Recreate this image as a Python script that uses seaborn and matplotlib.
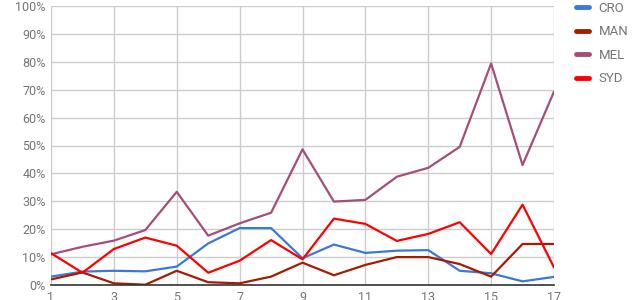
import matplotlib
matplotlib.use("Agg")
import matplotlib.pyplot as plt
import seaborn as sns
import pandas as pd
from matplotlib.ticker import FuncFormatter, MultipleLocator, FixedLocator

x_values = list(range(1, 18))
cro = [3.0, 4.8, 5.1, 4.9, 6.6, 14.9, 20.4, 20.4, 9.6, 14.5, 11.5, 12.3, 12.5, 5.1, 4.2, 1.3, 2.9]
man = [2.0, 4.5, 0.6, 0.1, 5.1, 1.0, 0.6, 3.0, 8.0, 3.5, 7.2, 10.0, 10.0, 7.5, 3.0, 14.7, 14.7]
mel = [11.0, 13.7, 15.9, 19.7, 33.4, 17.7, 22.1, 25.9, 48.6, 29.9, 30.5, 38.8, 42.0, 49.5, 79.4, 43.0, 69.3]
syd = [11.4, 4.4, 12.9, 17.0, 14.1, 4.4, 8.7, 16.1, 9.2, 23.8, 21.9, 15.8, 18.3, 22.5, 11.1, 28.8, 6.3]
x_ticks = [1, 3, 5, 7, 9, 11, 13, 15, 17]
series_names = ["CRO", "MAN", "MEL", "SYD"]
colors = ["#3c78d8", "#a61c00", "#a64d79", "#ff0000"]

df = pd.DataFrame({
    "x": x_values * 4,
    "value": cro + man + mel + syd,
    "series": sum([[n] * len(x_values) for n in series_names], []),
})

sns.set_theme(style="white")
plt.rcParams["font.family"] = ["Roboto", "DejaVu Sans"]

fig = plt.figure(figsize=(6.36, 3.0), dpi=100)
ax = fig.add_axes([51 / 636, 1 - 285 / 300, (554 - 51) / 636, (285 - 6) / 300])

sns.lineplot(data=df, x="x", y="value", hue="series", palette=colors,
             hue_order=series_names, linewidth=1.6, ax=ax, legend=True)

ax.set_xlim(1, 17)
ax.set_ylim(0, 100)
ax.xaxis.set_major_locator(FixedLocator(x_ticks))
ax.yaxis.set_major_locator(MultipleLocator(10))
ax.yaxis.set_major_formatter(FuncFormatter(lambda v, p: f"{int(round(v))}%"))
ax.grid(True, color="#cccccc", linewidth=1.0)
ax.set_axisbelow(True)
for s in ["top", "right", "left"]:
    ax.spines[s].set_visible(False)
ax.spines["bottom"].set_color("#333333")
ax.spines["bottom"].set_linewidth(1.2)
ax.spines["bottom"].set_zorder(5)
ax.tick_params(axis="both", length=0, labelsize=9, labelcolor="#757575", pad=4)
ax.set_xlabel("")
ax.set_ylabel("")

handles, labels = ax.get_legend_handles_labels()
leg = ax.legend(handles, labels, loc="upper left", bbox_to_anchor=(571 / 636, 1.012),
                bbox_transform=fig.transFigure, frameon=False, fontsize=9.5,
                handlelength=1.0, handletextpad=0.7, labelspacing=0.8,
                borderaxespad=0.0)
for t in leg.get_texts():
    t.set_color("#757575")
for line in leg.get_lines():
    line.set_linewidth(3.5)
    line.set_solid_capstyle("round")

fig.savefig("out.png", dpi=100)
